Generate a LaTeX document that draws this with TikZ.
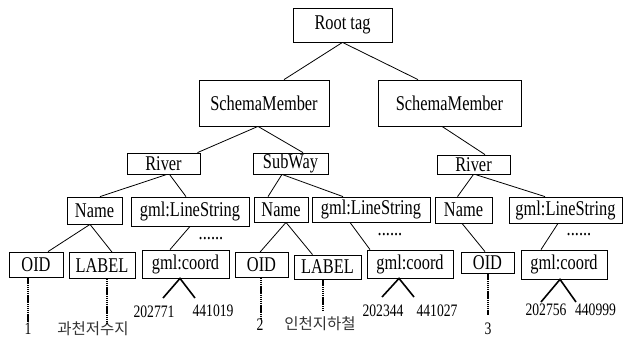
\documentclass[tikz,border=0pt]{standalone}
\usepackage{fontspec}
\setmainfont{Liberation Serif}[FakeStretch=0.78]
\newfontfamily\krfont{Noto Sans CJK KR}
\tikzset{
  box/.style={draw, line width=0.8pt, inner sep=0pt, font=\fontsize{21}{23}\selectfont},
  num/.style={inner sep=0pt, font=\fontsize{17.5}{19}\selectfont},
  kor/.style={inner sep=0pt, font=\krfont\fontsize{15.5}{17}\selectfont, text=black!80},
  dots/.style={inner sep=0pt, font=\fontsize{21}{23}\selectfont},
  edge/.style={line width=0.8pt},
  fork/.style={line width=1.6pt},
  dotline/.style={line width=2pt, dash pattern=on 1.3pt off 0.6pt}
}
\begin{document}
\begin{tikzpicture}[x=1pt, y=-1pt]
\useasboundingbox (0,0) rectangle (626,338);
% level 0-2
\node[box, minimum width=99pt, minimum height=34pt] (root) at (342.5,25) {Root tag};
\node[box, minimum width=130pt, minimum height=46pt] (sm1) at (264,103) {SchemaMember};
\node[box, minimum width=143pt, minimum height=46pt] (sm2) at (449.5,103) {SchemaMember};
\node[box, minimum width=73pt, minimum height=21pt] (river1) at (163.5,163.5) {River};
\node[box, minimum width=75pt, minimum height=21pt] (subway) at (290.5,163.5) {SubWay};
\node[box, minimum width=73pt, minimum height=19pt] (river2) at (473.5,164.5) {River};
% level 3
\node[box, minimum width=55pt, minimum height=27pt] (name1) at (94.5,210.5) {Name};
\node[box, minimum width=118pt, minimum height=29pt] (ls1) at (190,211.5) {gml:LineString};
\node[box, minimum width=54pt, minimum height=25pt] (name2) at (281,209.5) {Name};
\node[box, minimum width=118pt, minimum height=25pt] (ls2) at (371,209.5) {gml:LineString};
\node[box, minimum width=57pt, minimum height=26pt] (name3) at (463.5,210) {Name};
\node[box, minimum width=113pt, minimum height=26pt] (ls3) at (565.5,210) {gml:LineString};
% level 4
\node[box, minimum width=54pt, minimum height=25pt] (oid1) at (36,264.5) {OID};
\node[box, minimum width=66pt, minimum height=26pt] (label1) at (102,265.5) {LABEL};
\node[box, minimum width=87pt, minimum height=28pt] (coord1) at (185.5,264) {gml:coord};
\node[box, minimum width=53pt, minimum height=25pt] (oid2) at (261.5,265) {OID};
\node[box, minimum width=67pt, minimum height=24pt] (label2) at (327.5,267) {LABEL};
\node[box, minimum width=86pt, minimum height=28pt] (coord2) at (410,264) {gml:coord};
\node[box, minimum width=53pt, minimum height=21pt] (oid3) at (487.5,262.5) {OID};
\node[box, minimum width=86pt, minimum height=29pt] (coord3) at (564,264.5) {gml:coord};
% dots
\node[dots] (dots1) at (211,239) {......};
\node[dots] (dots2) at (390,235) {......};
\node[dots] (dots3) at (579,235) {......};
% numbers
\node[num] (n1a) at (154,312) {202771};
\node[num] (n1b) at (213,311) {441019};
\node[num] (n2a) at (383,311) {202344};
\node[num] (n2b) at (437,311) {441027};
\node[num] (n3a) at (546,310) {202756};
\node[num] (n3b) at (595.5,310) {440999};
% leaf labels
\node[num] (v1) at (28,329) {1};
\node[kor] (k1) at (93,329) {과천저수지};
\node[num] (v2) at (260,325) {2};
\node[kor] (k2) at (320,324) {인천지하철};
\node[num] (v3) at (488,329) {3};
% free ends
\coordinate (f1a) at (163,298);
\coordinate (f1b) at (195,298);
\coordinate (f2a) at (382,297);
\coordinate (f2b) at (414,297);
\coordinate (f3a) at (541,302);
\coordinate (f3b) at (576,302);
\coordinate (d1) at (28,323);
\coordinate (d2) at (107,323);
\coordinate (d3) at (261,319);
\coordinate (d4) at (323,310);
\coordinate (d5) at (488,315);
% edges
\draw[edge] (root.south) -- ([xshift=20pt]sm1.north);
\draw[edge] (root.south) -- ([xshift=-31.5pt]sm2.north);
\draw[edge] ([xshift=-6pt]sm1.south) -- ([xshift=34pt]river1.north);
\draw[edge] ([xshift=-6pt]sm1.south) -- ([xshift=12.5pt]subway.north);
\draw[edge] ([xshift=-7.5pt]sm2.south) -- ([xshift=11.5pt]river2.north);
\draw[edge] ([xshift=3.5pt]river1.south) -- ([xshift=5.5pt]name1.north);
\draw[edge] ([xshift=6pt]river1.south) -- ([xshift=-4pt]ls1.north);
\draw[edge] ([xshift=-8.5pt]subway.south) -- ([xshift=-13pt]name2.north);
\draw[edge] ([xshift=-8.5pt]subway.south) -- ([xshift=-28pt]ls2.north);
\draw[edge] (river2.south) -- ([xshift=-6pt]name3.north);
\draw[edge] ([xshift=1.5pt]river2.south) -- ([xshift=-20.5pt]ls3.north);
\draw[edge] ([xshift=-4.5pt]name1.south) -- ([xshift=12pt]oid1.north);
\draw[edge] ([xshift=-4.5pt]name1.south) -- ([xshift=10pt]label1.north);
\draw[edge] (ls1.south) -- ([xshift=-15.5pt]coord1.north);
\draw[edge] ([xshift=5pt]name2.south) -- ([xshift=-1.5pt]oid2.north);
\draw[edge] ([xshift=5pt]name2.south) -- ([xshift=-15pt]label2.north);
\draw[edge] ([xshift=-21pt]ls2.south) -- ([xshift=-40pt]coord2.north);
\draw[edge] ([xshift=-1.5pt]name3.south) -- ([xshift=-2.5pt]oid3.north);
\draw[edge] ([xshift=-7.5pt]ls3.south) -- ([xshift=-23pt]coord3.north);
% forks
\draw[fork] (f1a) -- ([xshift=-5.5pt]coord1.south) -- (f1b);
\draw[fork] (f2a) -- ([xshift=-11pt]coord2.south) -- (f2b);
\draw[fork] (f3a) -- ([xshift=-4pt]coord3.south) -- (f3b);
% dotted value links
\draw[dotline] ([xshift=-8pt]oid1.south) -- (d1);
\draw[dotline] ([xshift=5pt]label1.south) -- (d2);
\draw[dotline] ([xshift=-0.5pt]oid2.south) -- (d3);
\draw[dotline] ([xshift=-4.5pt]label2.south) -- (d4);
\draw[dotline] ([xshift=0.5pt]oid3.south) -- (d5);
\end{tikzpicture}
\end{document}
